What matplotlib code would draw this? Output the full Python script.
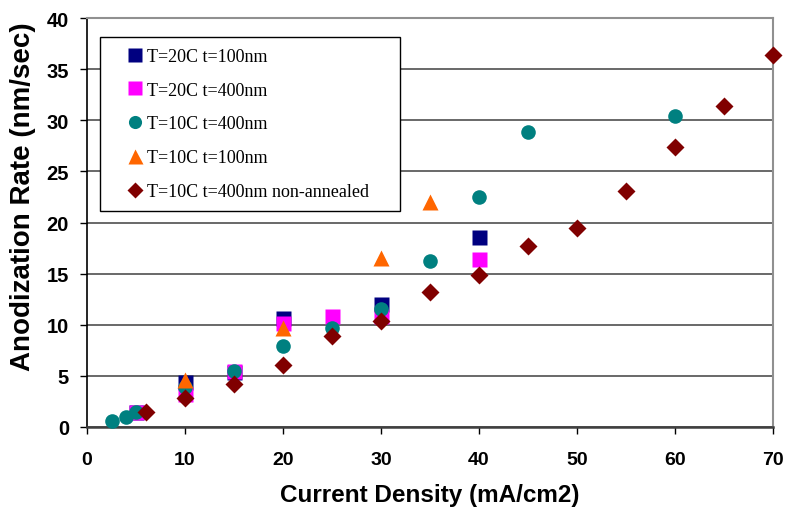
import matplotlib.pyplot as plt
from matplotlib.legend_handler import HandlerLine2D

# T=20C t=100nm
x_a = [5, 10, 15, 20, 30, 40]
y_a = [1.5, 4.4, 5.4, 10.7, 12.0, 18.6]
# T=20C t=400nm
x_b = [5, 10, 15, 20, 25, 30, 40]
y_b = [1.5, 3.2, 5.5, 10.2, 10.9, 10.9, 16.4]
# T=10C t=400nm
x_c = [2.5, 4, 5, 10, 15, 20, 25, 30, 35, 40, 45, 60]
y_c = [0.55, 0.95, 1.5, 3.9, 5.5, 7.95, 9.7, 11.5, 16.2, 22.5, 28.9, 30.4]
# T=10C t=100nm
x_d = [10, 20, 30, 35]
y_d = [4.6, 9.7, 16.5, 22.0]
# T=10C t=400nm non-annealed
x_e = [6, 10, 15, 20, 25, 30, 35, 40, 45, 50, 55, 60, 65, 70]
y_e = [1.5, 2.8, 4.2, 6.1, 8.9, 10.4, 13.2, 14.9, 17.7, 19.5, 23.1, 27.4, 31.4, 36.4]

fig = plt.figure(figsize=(7.86, 5.10), dpi=100)
ax = fig.add_axes([0.1107, 0.1608, 0.8728, 0.8019])

kw = dict(mec="none", clip_on=False, zorder=3)
ax.plot(x_a, y_a, "s", color="#000080", ms=10.8, label="T=20C t=100nm", **kw)
ax.plot(x_b, y_b, "s", color="#FF00FF", ms=10.8, label="T=20C t=400nm", **kw)
ax.plot(x_c, y_c, "o", color="#008080", ms=10.5, label="T=10C t=400nm", **kw)
ax.plot(x_d, y_d, "^", color="#FF6600", ms=12, label="T=10C t=100nm", **kw)
ax.plot(x_e, y_e, "D", color="#800000", ms=9, label="T=10C t=400nm non-annealed", **kw)

ax.set_xlim(0, 70)
ax.set_ylim(0, 40)
ax.set_xticks(range(0, 71, 10))
ax.set_yticks(range(0, 41, 5))
ax.yaxis.grid(True, color="#404040", lw=1.1)
ax.set_axisbelow(True)
ax.spines["top"].set_color("#909090")
ax.spines["top"].set_linewidth(1.5)
ax.spines["right"].set_color("#909090")
ax.spines["right"].set_linewidth(1.5)
ax.spines["left"].set_linewidth(1.2)
ax.spines["bottom"].set_color("#404040")
ax.spines["bottom"].set_linewidth(1.8)
ax.tick_params(axis="x", direction="out", length=5, width=1, labelsize=14, pad=12)
ax.tick_params(axis="y", direction="out", length=5, width=1, labelsize=14.5, pad=8)
for lab in ax.get_xticklabels() + ax.get_yticklabels():
    lab.set_fontweight("bold")
    lab.set_family("Liberation Sans")

ax.set_xlabel("Current Density (mA/cm2)", fontsize=17.5, fontweight="bold", family="Liberation Sans")
ax.set_ylabel("Anodization Rate (nm/sec)", fontsize=20, fontweight="bold", family="Liberation Sans")
ax.xaxis.set_label_coords(0.5, -0.137)
ax.yaxis.set_label_coords(-0.074, 0.565)

hm = {l: HandlerLine2D(numpoints=1, xpad=0.7) for l in ax.get_lines()}
leg = ax.legend(loc="upper left", bbox_to_anchor=(0.019, 0.9535, 0.437, 0), mode="expand",
                borderaxespad=0, prop={"family": "Liberation Serif", "size": 13},
                fancybox=False, edgecolor="black", framealpha=1, labelspacing=0.93,
                handlelength=2.0, handletextpad=0.0, borderpad=0.6,
                markerscale=0.9, handler_map=hm)
leg.get_frame().set_linewidth(1)

fig.savefig("out.png", dpi=100)
